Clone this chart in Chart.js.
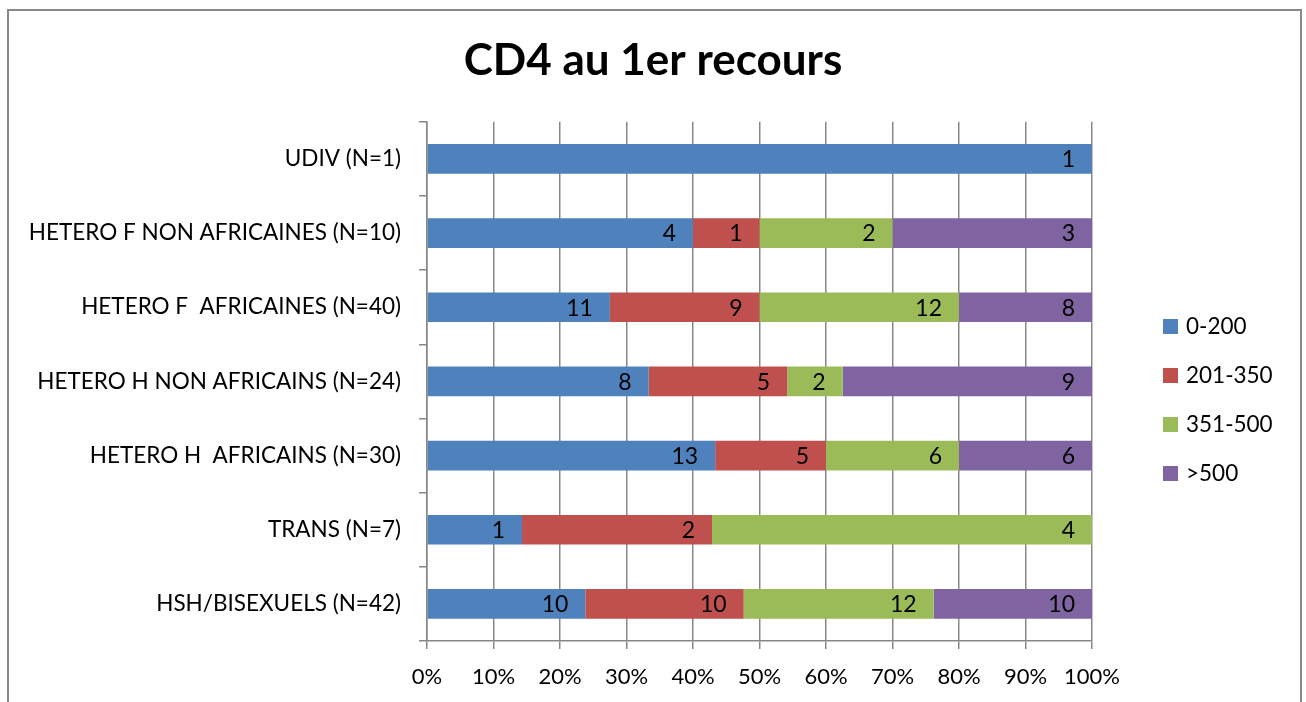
<!DOCTYPE html>
<html><head><meta charset="utf-8">
<script src="https://cdn.jsdelivr.net/npm/chart.js@4.4.1/dist/chart.umd.min.js"></script>
<style>
html,body{margin:0;padding:0;background:#fff;}
#wrap{position:relative;width:1306px;height:702px;}
#frame{position:absolute;left:7px;top:9px;width:1291px;height:700px;border:2px solid #888;pointer-events:none;}
canvas{position:absolute;left:0;top:0;}
</style></head>
<body><div id="wrap"><canvas id="c" width="1306" height="702"></canvas><div id="frame"></div></div>
<script>
const categories = ["UDIV (N=1)","HETERO F NON AFRICAINES (N=10)","HETERO F  AFRICAINES (N=40)","HETERO H NON AFRICAINS (N=24)","HETERO H  AFRICAINS (N=30)","TRANS (N=7)","HSH/BISEXUELS (N=42)"];
const seriesNames = ["0-200","201-350","351-500",">500"];
const s0_200   = [1, 4, 11, 8, 13, 1, 10];
const s201_350 = [0, 1, 9, 5, 5, 2, 10];
const s351_500 = [0, 2, 12, 2, 6, 4, 12];
const s500plus = [0, 3, 8, 9, 6, 0, 10];
const xTicks = [0,10,20,30,40,50,60,70,80,90,100];
const colors = ["#4F81BD","#C0504D","#9BBB59","#8064A2"];

const counts = [s0_200, s201_350, s351_500, s500plus];
const totals = categories.map((_, i) => counts.reduce((a, s) => a + s[i], 0));
const FONT = "Lato, 'Open Sans', sans-serif";

const labelPlugin = {
  id: 'segLabels',
  afterDatasetsDraw(chart) {
    const ctx = chart.ctx;
    ctx.save();
    ctx.font = "23px " + FONT;
    ctx.fillStyle = "#000";
    ctx.textAlign = "right";
    ctx.textBaseline = "middle";
    chart.data.datasets.forEach((ds, di) => {
      const meta = chart.getDatasetMeta(di);
      meta.data.forEach((el, i) => {
        const v = ds.counts[i];
        if (!v) return;
        ctx.fillText(String(v), el.x - 17, el.y + 1);
      });
    });
    ctx.restore();
  },
  afterDraw(chart) {
    const ctx = chart.ctx;
    ctx.save();
    ctx.font = "22.5px " + FONT;
    ctx.textBaseline = "middle";
    ctx.textAlign = "left";
    const ys = [326, 375, 424, 473];
    chart.data.datasets.forEach((ds, di) => {
      ctx.fillStyle = ds.backgroundColor;
      ctx.fillRect(1163, ys[di] - 7, 15, 15);
      ctx.fillStyle = "#000";
      ctx.fillText(ds.label, 1186, ys[di] + 1);
    });
    ctx.restore();
  }
};

new Chart(document.getElementById('c'), {
  type: 'bar',
  data: {
    labels: categories,
    datasets: seriesNames.map((n, k) => ({
      label: n,
      counts: counts[k],
      data: counts[k].map((v, i) => v / totals[i] * 100),
      backgroundColor: colors[k],
      borderWidth: 0,
      categoryPercentage: 1,
      barPercentage: 0.4
    }))
  },
  options: {
    indexAxis: 'y',
    responsive: false,
    animation: false,
    layout: { padding: { left: 0, right: 0, top: 0, bottom: 0 } },
    plugins: {
      legend: { display: false },
      tooltip: { enabled: false },
      title: {
        display: true,
        text: "CD4 au 1er recours",
        color: "#000",
        font: { family: FONT, size: 44, weight: 'bold' },
        padding: { top: 34, bottom: 35 }
      }
    },
    scales: {
      x: {
        stacked: true, min: 0, max: 100,
        afterBuildTicks: s => { s.ticks = xTicks.map(v => ({ value: v })); },
        afterFit: s => { s.height = 61; },
        ticks: { callback: v => v + "%", color: "#000", font: { family: FONT, size: 22 }, padding: 15, maxRotation: 0 },
        grid: { color: "#878787", lineWidth: 1.5, tickLength: 8, drawOnChartArea: true },
        border: { color: "#878787", width: 1.5 }
      },
      y: {
        stacked: true,
        afterFit: s => { s.width = 427; },
        ticks: { color: "#000", font: { family: FONT, size: 22.5 }, padding: 18 },
        grid: { color: "#878787", lineWidth: 1.5, tickLength: 8, drawOnChartArea: false, offset: true },
        border: { color: "#878787", width: 1.5 }
      },
      rpad: {
        type: 'category', position: 'right', display: true,
        afterFit: s => { s.width = 214; },
        ticks: { display: false },
        grid: { display: false },
        border: { display: false }
      }
    }
  },
  plugins: [labelPlugin]
});
</script></body></html>
